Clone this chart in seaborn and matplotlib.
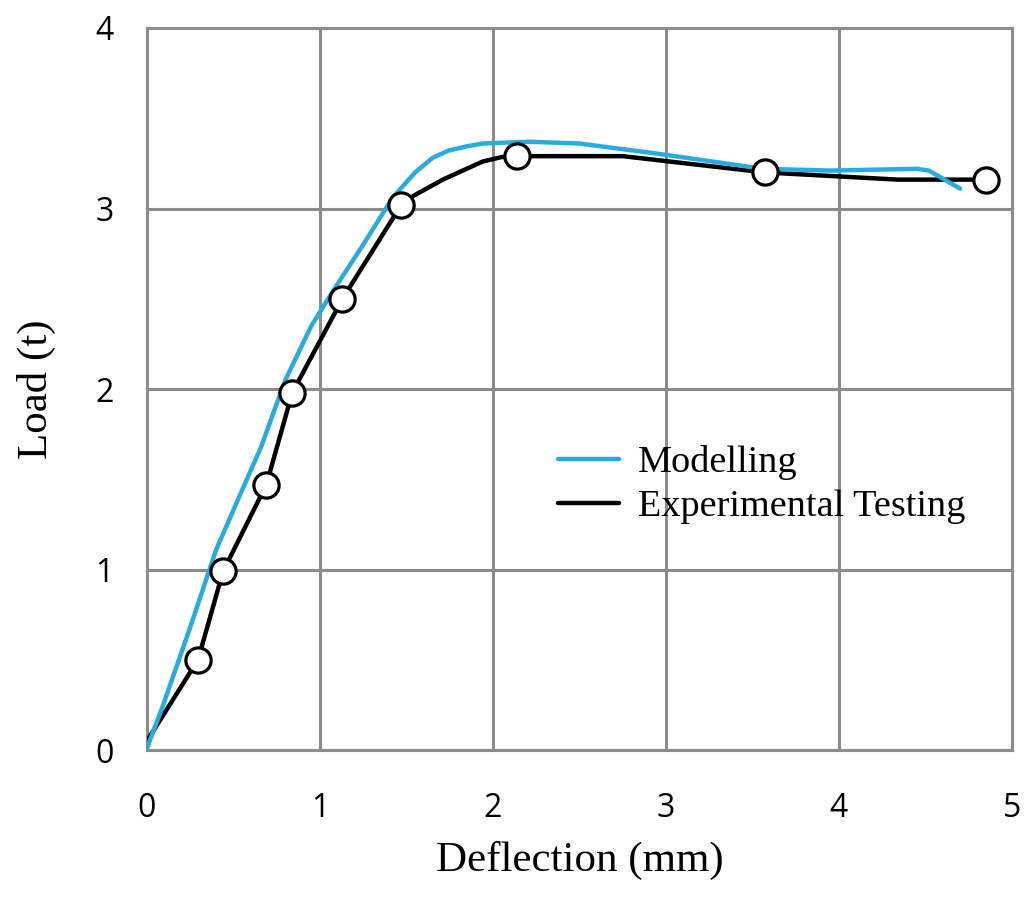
import matplotlib
matplotlib.use("Agg")
import matplotlib.pyplot as plt
import pandas as pd
import seaborn as sns

# Modelling curve
model_x = [0, 0.09, 0.25, 0.40, 0.55, 0.66, 0.80, 0.95, 1.08, 1.25, 1.42, 1.55, 1.65, 1.74,
           1.85, 1.94, 2.21, 2.50, 2.98, 3.56, 3.95, 4.45, 4.52, 4.70]
model_y = [0.01, 0.24, 0.68, 1.11, 1.44, 1.68, 2.05, 2.35, 2.55, 2.80, 3.06, 3.20, 3.28, 3.32,
           3.345, 3.36, 3.37, 3.36, 3.30, 3.22, 3.21, 3.22, 3.21, 3.11]

# Experimental curve
exp_x = [0, 0.295, 0.44, 0.69, 0.84, 1.13, 1.47, 1.54, 1.71, 1.94, 2.05, 2.14, 2.75, 3.57, 4.34, 4.85]
exp_y = [0.05, 0.50, 0.99, 1.47, 1.98, 2.50, 3.02, 3.07, 3.16, 3.26, 3.285, 3.29, 3.29, 3.20, 3.16, 3.16]

# measured points (circle markers)
pts_x = [0.295, 0.44, 0.69, 0.84, 1.13, 1.47, 2.14, 3.57, 4.85]
pts_y = [0.50, 0.99, 1.47, 1.98, 2.50, 3.02, 3.29, 3.20, 3.16]

model_df = pd.DataFrame({"Deflection": model_x, "Load": model_y})
exp_df = pd.DataFrame({"Deflection": exp_x, "Load": exp_y})
pts_df = pd.DataFrame({"Deflection": pts_x, "Load": pts_y})

sns.set_style("white")
grid_col = "#8c8c8c"

fig = plt.figure(figsize=(10.27, 9.15), dpi=100)
ax = fig.add_axes([0.1431, 0.1803, 0.8423, 0.7891])

sns.lineplot(data=model_df, x="Deflection", y="Load", color="#29abe2", linewidth=3.2,
             sort=False, label="Modelling", ax=ax, zorder=4)
sns.lineplot(data=exp_df, x="Deflection", y="Load", color="black", linewidth=3.2,
             sort=False, label="Experimental Testing", ax=ax, zorder=3)
sns.scatterplot(data=pts_df, x="Deflection", y="Load", marker="o", s=330,
                facecolor="white", edgecolor="black", linewidth=2.3, ax=ax, zorder=5,
                legend=False)

ax.set_xlim(0, 5)
ax.set_ylim(0, 4)
ax.set_xticks([0, 1, 2, 3, 4, 5])
ax.set_yticks([0, 1, 2, 3, 4])
ax.grid(True, color=grid_col, linewidth=2.2)
ax.set_axisbelow(True)
for s in ax.spines.values():
    s.set_color(grid_col)
    s.set_linewidth(2.2)
ax.tick_params(length=0, labelcolor="black")
ax.tick_params(axis="x", pad=30)
ax.tick_params(axis="y", pad=24)
for lab in ax.get_xticklabels() + ax.get_yticklabels():
    lab.set_fontfamily("Open Sans")
    lab.set_fontsize(23)

ax.set_xlabel("Deflection (mm)", fontfamily="Liberation Serif", fontsize=31,
              labelpad=12, color="black")
ax.set_ylabel("Load (t)", fontfamily="Liberation Serif", fontsize=31,
              labelpad=28, color="black")

leg = ax.legend(loc="upper left", bbox_to_anchor=(0.435, 0.47), frameon=False,
                prop={"family": "Liberation Serif", "size": 27.5},
                handlelength=1.6, handletextpad=0.5, labelspacing=0.25)
for t in leg.get_texts():
    t.set_color("black")

plt.savefig("out.png", dpi=100)
